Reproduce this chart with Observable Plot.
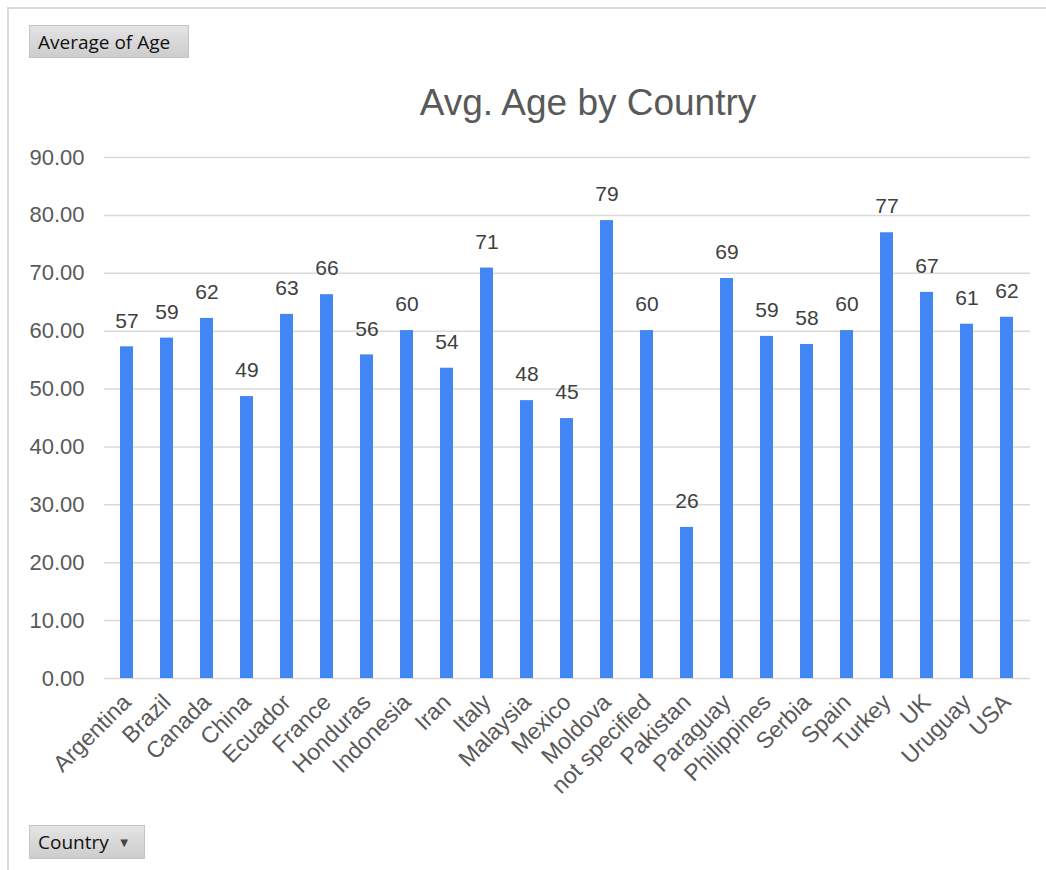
<!DOCTYPE html>
<html><head><meta charset="utf-8">
<script src="https://cdn.jsdelivr.net/npm/d3@7"></script>
<script src="https://cdn.jsdelivr.net/npm/@observablehq/plot@0.6"></script>
<style>
body{margin:0;background:#fff;font-family:"Liberation Sans",Arial,sans-serif;}
#wrap{position:relative;width:1046px;height:870px;overflow:hidden;background:#fff;}
#frame{position:absolute;left:7px;top:7px;width:1100px;height:1000px;border-left:2px solid #dadada;border-top:2px solid #dadada;}
#chart{position:absolute;left:0;top:0;}
#title{position:absolute;left:0;width:1176px;text-align:center;top:84px;font-size:37px;line-height:37px;color:#595959;white-space:nowrap;}
.btn{position:absolute;box-sizing:border-box;background:linear-gradient(#e4e4e4,#cdcdcd);border:1px solid #c4c4c4;font-family:"Open Sans",sans-serif;font-size:19px;color:#111;padding-left:8px;line-height:32px;white-space:nowrap;}
</style></head>
<body>
<div id="wrap">
  <div id="frame"></div>
  <div class="btn" style="left:29px;top:25px;width:160px;height:33px;">Average of Age</div>
  <div id="chart"></div>
  <div id="title">Avg. Age by Country</div>
  <div class="btn" style="left:29px;top:825px;width:116px;height:34px;">Country <span style="font-size:13px;color:#444;position:relative;top:-2px;margin-left:4px;">&#9660;</span></div>
</div>
<script>
const countries = ["Argentina","Brazil","Canada","China","Ecuador","France","Honduras","Indonesia","Iran","Italy","Malaysia","Mexico","Moldova","not specified","Pakistan","Paraguay","Philippines","Serbia","Spain","Turkey","UK","Uruguay","USA"];
const avgAge = [57.3,58.8,62.2,48.7,62.9,66.3,55.9,60.1,53.6,70.9,48.0,44.9,79.1,60.1,26.1,69.1,59.1,57.7,60.1,77.0,66.7,61.2,62.4];
const yTicks = [0,10,20,30,40,50,60,70,80,90];

const data = countries.map((c, i) => ({country: c, age: avgAge[i]}));

const chart = Plot.plot({
  width: 1046,
  height: 820,
  marginLeft: 104,
  marginRight: 16,
  marginTop: 157,
  marginBottom: 142,
  style: {fontFamily: "'Liberation Sans', Arial, sans-serif", background: "transparent", overflow: "visible"},
  x: {domain: countries, paddingInner: 0.67, paddingOuter: 0.335, label: null},
  y: {domain: [0, 90], label: null},
  marks: [
    Plot.gridY(yTicks, {stroke: "#d9d9d9", strokeOpacity: 1, strokeWidth: 1.5}),
    Plot.barY(data, {x: "country", y: "age", fill: "#4285f4"}),
    Plot.text(data, {x: "country", y: "age", text: d => String(Math.round(d.age)), dy: -26, fontSize: 21, fill: "#404040"}),
    Plot.axisY({ticks: yTicks, tickFormat: d3.format(".2f"), tickSize: 0, tickPadding: 20, fontSize: 22, color: "#595959", label: null}),
    Plot.axisX({tickSize: 0, tickPadding: 20, tickRotate: -45, fontSize: 23, color: "#595959", label: null})
  ]
});
document.getElementById("chart").appendChild(chart);
</script>
</body></html>
